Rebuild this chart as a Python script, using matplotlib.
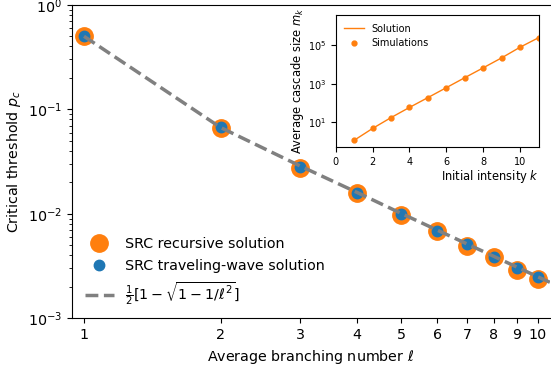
import matplotlib
matplotlib.use("Agg")
import matplotlib.pyplot as plt
from matplotlib.ticker import LogLocator, NullLocator, NullFormatter

# Main panel data
ell = [1, 2, 3, 4, 5, 6, 7, 8, 9, 10]
pc_recursive = [0.5, 0.066, 0.0275, 0.0157, 0.0098, 0.0068, 0.0049, 0.0039, 0.0029, 0.0024]
pc_wave = [0.5, 0.067, 0.0281, 0.0158, 0.0100, 0.0069, 0.0051, 0.0039, 0.0030, 0.0025]
ell_line = [1, 2, 3, 4, 5, 6, 7, 8, 9, 10, 11]
pc_line = [0.5, 0.067, 0.0286, 0.0160, 0.0101, 0.0070, 0.00513, 0.00392, 0.00309, 0.0025, 0.00207]
xtick_vals = [1, 2, 3, 4, 5, 6, 7, 8, 9, 10]

# Inset data
k_vals = [1, 2, 3, 4, 5, 6, 7, 8, 9, 10, 11]
m_sim = [1.1, 4.6, 17, 58, 190, 630, 2100, 6900, 23000, 83000, 260000]
m_sol = [1.1, 4.6, 17, 58, 190, 630, 2100, 6900, 23000, 83000, 260000]

fig = plt.figure(figsize=(5.51, 3.71), dpi=100)
ax = fig.add_axes([0.1307, 0.142, 0.867, 0.845])

ax.plot(ell, pc_recursive, 'o', color='#ff7f0e', ms=12.5, label='SRC recursive solution', zorder=3)
ax.plot(ell, pc_wave, 'o', color='#1f77b4', ms=7.5, label='SRC traveling-wave solution', zorder=4)
ax.plot(ell_line, pc_line, '--', color='gray', lw=2.5, label=r'$\frac{1}{2}[1-\sqrt{1-1/\ell^2}]$', zorder=5)

ax.set_xscale('log')
ax.set_yscale('log')
ax.set_xlim(0.941, 10.63)
ax.set_ylim(1e-3, 1)
ax.set_xticks(xtick_vals)
ax.set_xticklabels([str(v) for v in xtick_vals])
ax.xaxis.set_minor_locator(NullLocator())
ax.yaxis.set_minor_locator(LogLocator(base=10, subs=range(2, 10)))
ax.yaxis.set_minor_formatter(NullFormatter())
ax.tick_params(labelsize=10.3)
ax.set_xlabel(r'Average branching number $\ell$', fontsize=10.3)
ax.set_ylabel(r'Critical threshold $p_c$', fontsize=10.3)
ax.spines['right'].set_visible(False)
ax.legend(loc='lower left', frameon=False, fontsize=10.3, bbox_to_anchor=(0.0, -0.005),
          handletextpad=0.8, labelspacing=0.55)

# Inset
ins = fig.add_axes([0.609, 0.604, 0.369, 0.356])
ins.plot(k_vals, m_sol, '-', color='#ff7f0e', lw=1, label='Solution')
ins.plot(k_vals, m_sim, 'o', color='#ff7f0e', ms=3.5, label='Simulations')
ins.set_yscale('log')
ins.set_xlim(0, 11)
ins.set_ylim(0.5, 4e6)
ins.set_xticks([0, 2, 4, 6, 8, 10])
ins.set_yticks([10, 1000, 100000])
ins.tick_params(labelsize=7)
ins.yaxis.set_minor_locator(NullLocator())
ins.set_xlabel(r'Initial intensity $k$', fontsize=8.3, loc='right', labelpad=1)
ins.set_ylabel(r'Average cascade size $m_k$', fontsize=8.3, labelpad=1)
ins.legend(loc='upper left', frameon=False, fontsize=7)

fig.savefig('out.png', dpi=100)
